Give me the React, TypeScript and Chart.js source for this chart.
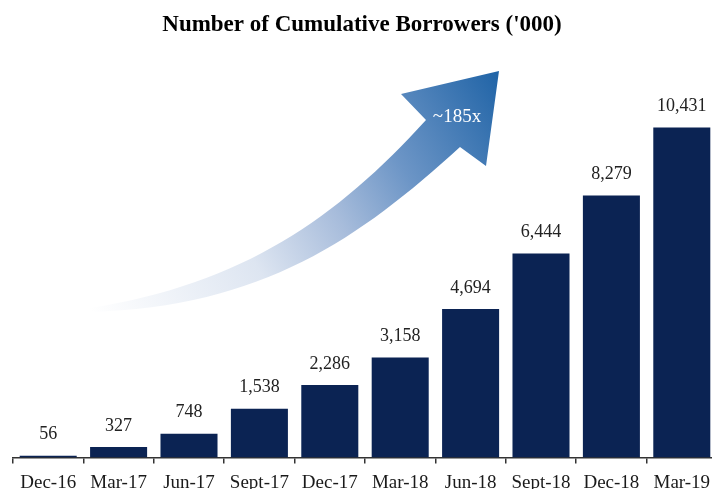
import React, { useEffect, useRef } from "react";
import { Chart, registerables } from "chart.js";

Chart.register(...registerables);

const categories = ["Dec-16", "Mar-17", "Jun-17", "Sept-17", "Dec-17", "Mar-18", "Jun-18", "Sept-18", "Dec-18", "Mar-19"];
const borrowers = [56, 327, 748, 1538, 2286, 3158, 4694, 6444, 8279, 10431];
const titleText = "Number of Cumulative Borrowers ('000)";
const growthLabel = "~185x";

const SERIF = '"Liberation Serif", "DejaVu Serif", serif';
const CANVAS_W = 717;
const CANVAS_H = 502;

const titlePlugin = {
  id: "customTitle",
  afterDraw(chart: any) {
    const ctx = chart.ctx;
    ctx.save();
    ctx.font = `bold 23px ${SERIF}`;
    ctx.fillStyle = "#000";
    ctx.textAlign = "center";
    ctx.textBaseline = "middle";
    ctx.fillText(titleText, 362, 25);
    ctx.restore();
  },
};

const arrowPlugin = {
  id: "growthArrow",
  beforeDatasetsDraw(chart: any) {
    const ctx = chart.ctx;
    ctx.save();
    const g = ctx.createLinearGradient(90, 310, 500, 70);
    g.addColorStop(0, "rgba(255,255,255,1)");
    g.addColorStop(0.35, "#dde5f1");
    g.addColorStop(0.55, "#a7bcdb");
    g.addColorStop(0.72, "#6c95c6");
    g.addColorStop(1, "#1f63a6");
    ctx.fillStyle = g;
    ctx.beginPath();
    ctx.moveTo(90, 308);
    ctx.bezierCurveTo(243, 284, 337, 218, 426, 120);
    ctx.lineTo(401, 94);
    ctx.lineTo(499, 71);
    ctx.lineTo(486, 166);
    ctx.lineTo(460, 147);
    ctx.bezierCurveTo(360, 238, 263, 307, 90, 312);
    ctx.closePath();
    ctx.fill();
    ctx.font = `19px ${SERIF}`;
    ctx.fillStyle = "#ffffff";
    ctx.textAlign = "center";
    ctx.textBaseline = "middle";
    ctx.fillText(growthLabel, 457, 117);
    ctx.restore();
  },
};

const valueLabelPlugin = {
  id: "valueLabels",
  afterDatasetsDraw(chart: any) {
    const ctx = chart.ctx;
    const meta = chart.getDatasetMeta(0);
    ctx.save();
    ctx.font = `18px ${SERIF}`;
    ctx.fillStyle = "#222";
    ctx.textAlign = "center";
    ctx.textBaseline = "middle";
    meta.data.forEach((bar: any, i: number) => {
      ctx.fillText(borrowers[i].toLocaleString("en-US"), bar.x, bar.y - 21);
    });
    ctx.restore();
  },
};

export default function App() {
  const ref = useRef<HTMLCanvasElement>(null);
  useEffect(() => {
    const prevMargin = document.body.style.margin;
    document.body.style.margin = "0";
    const chart = new Chart(ref.current!, {
      type: "bar",
      data: {
        labels: categories,
        datasets: [
          {
            data: borrowers,
            backgroundColor: "#0b2353",
            barPercentage: 0.81,
            categoryPercentage: 1,
          },
        ],
      },
      options: {
        animation: false,
        responsive: false,
        devicePixelRatio: 1,
        layout: { padding: { top: 62, left: 13, right: 0, bottom: 0 } },
        plugins: {
          legend: { display: false },
          title: { display: false },
          tooltip: { enabled: false },
        },
        scales: {
          x: {
            grid: {
              drawOnChartArea: false,
              drawTicks: true,
              tickLength: 6,
              color: "#333",
              lineWidth: 1.5,
              offset: true,
            },
            border: { display: true, color: "#333", width: 1.5 },
            ticks: {
              color: "#1a1a1a",
              padding: 6,
              maxRotation: 0,
              autoSkip: false,
              font: { family: SERIF, size: 19, lineHeight: 1.4 },
            },
          },
          y: {
            display: false,
            min: 0,
            max: 12500,
          },
        },
      },
      plugins: [arrowPlugin, valueLabelPlugin, titlePlugin],
    });
    return () => {
      chart.destroy();
      document.body.style.margin = prevMargin;
    };
  }, []);
  return (
    <div style={{ position: "relative", width: 712, height: 489, overflow: "hidden", background: "#fff" }}>
      <canvas
        ref={ref}
        width={CANVAS_W}
        height={CANVAS_H}
        style={{ position: "absolute", left: 0, top: 0, width: CANVAS_W, height: CANVAS_H, maxWidth: "none", maxHeight: "none" }}
      />
    </div>
  );
}
